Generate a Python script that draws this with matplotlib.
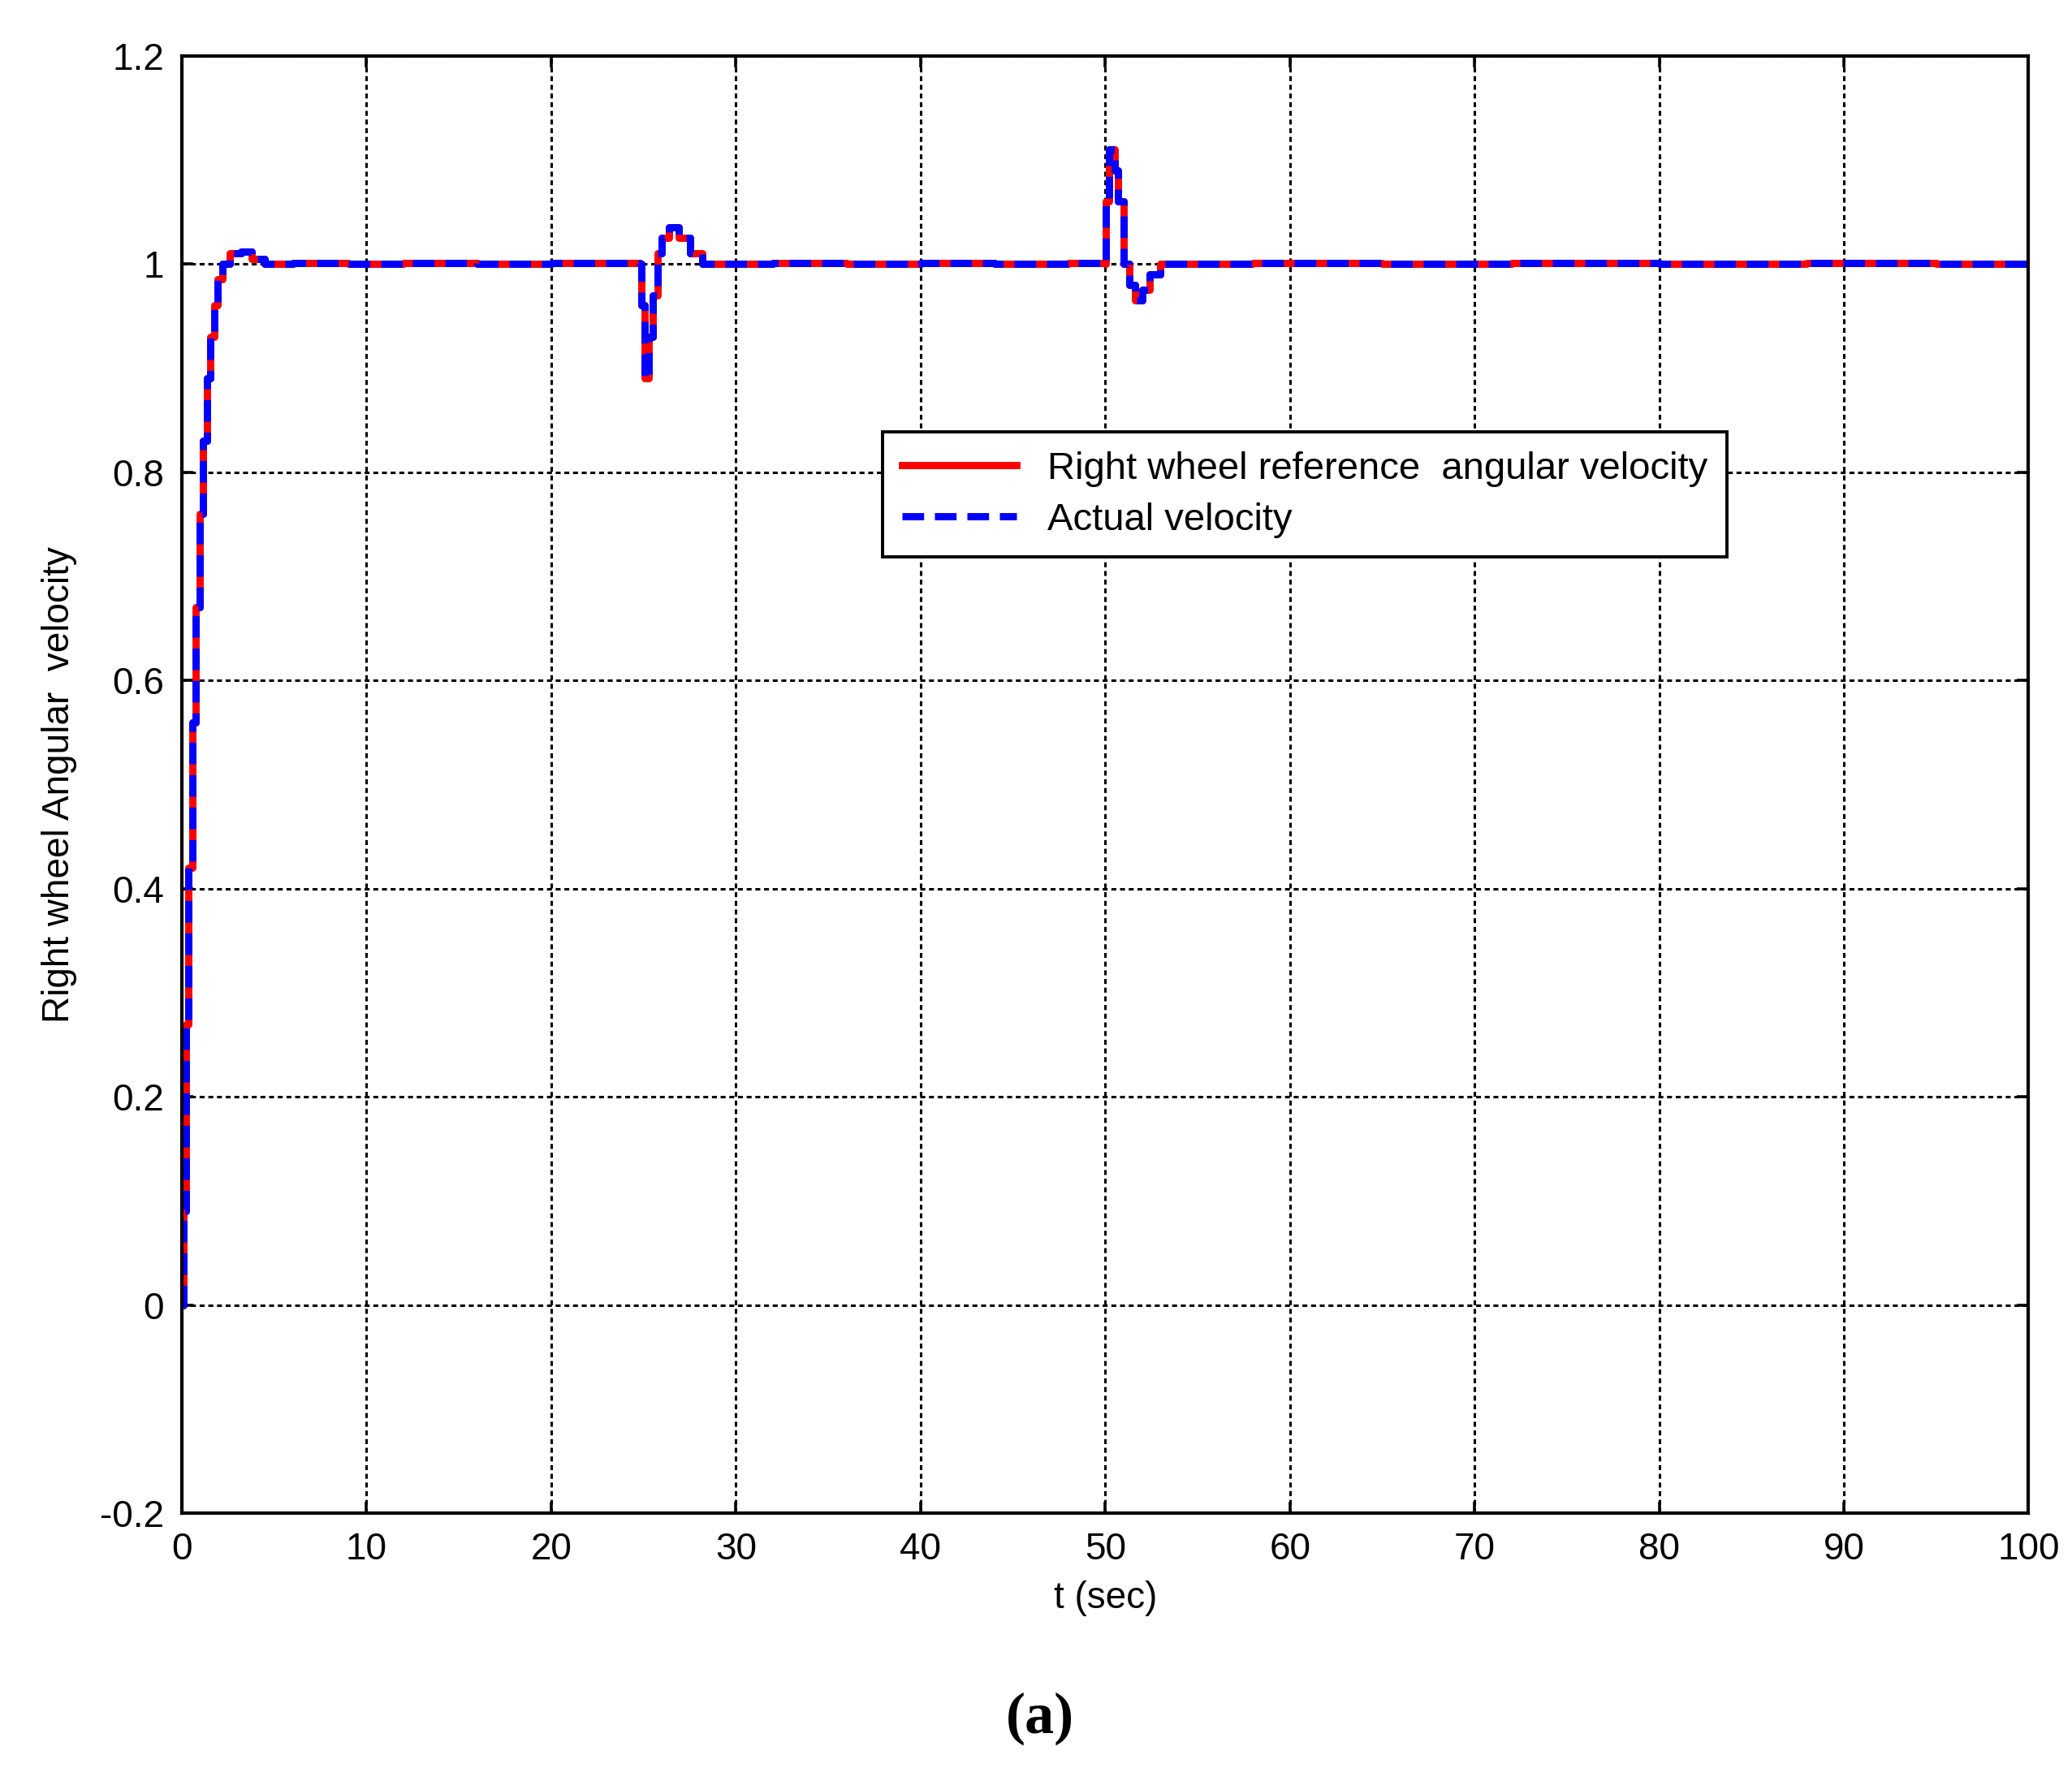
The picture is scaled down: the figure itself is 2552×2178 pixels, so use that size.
import numpy as np
import matplotlib.pyplot as plt

# step response
t = [0, 0.08, 0.2, 0.35, 0.55, 0.75, 0.95, 1.15, 1.35, 1.55, 1.75, 1.95, 2.2, 2.6, 3.2, 3.8, 4.5,
     6, 9, 12, 16, 20, 24.8, 24.9, 25.05, 25.3, 25.5, 25.75, 26.0, 26.4, 26.9, 27.5, 28.2,
     32, 36, 40, 44, 48, 50.0, 50.05, 50.2, 50.5, 50.7, 51.0, 51.3, 51.6, 52.0, 52.4, 53.0,
     58, 65, 72, 80, 88, 95, 100]
w_ref = [0, 0.09, 0.27, 0.42, 0.56, 0.67, 0.76, 0.83, 0.89, 0.93, 0.96, 0.985, 1.0, 1.01, 1.012, 1.005, 1.0,
         1.001, 1.0, 1.001, 1.0, 1.001, 1.0, 0.96, 0.89, 0.93, 0.97, 1.01, 1.025, 1.035, 1.025, 1.01, 1.0,
         1.001, 1.0, 1.001, 1.0, 1.001, 1.0, 1.06, 1.11, 1.09, 1.06, 1.0, 0.98, 0.965, 0.975, 0.99, 1.0,
         1.001, 1.0, 1.001, 1.0, 1.001, 1.0, 1.0]
w_act = w_ref

plt.rcParams['font.family'] = ['Liberation Sans', 'DejaVu Sans']
fig = plt.figure(figsize=(12.76, 10.89), dpi=200)
ax = fig.add_axes([0.0878, 0.144, 0.8912, 0.8245])

ax.plot(t, w_ref, color='red', lw=3.2, drawstyle='steps-post',
        label='Right wheel reference  angular velocity')
ax.plot(t, w_act, color='blue', lw=3.2, ls=(0, (3, 1.5)), drawstyle='steps-post',
        label='Actual velocity')

ax.set_xlim(0, 100)
ax.set_ylim(-0.2, 1.2)
ax.set_xticks(np.arange(0, 101, 10))
ax.set_yticks(np.arange(-0.2, 1.21, 0.2))
ax.set_yticklabels(['-0.2', '0', '0.2', '0.4', '0.6', '0.8', '1', '1.2'])
ax.grid(True, color='black', ls=(0, (2, 1.5)), lw=1.1)
ax.tick_params(labelsize=16.5, direction='in', length=5, width=1.3, top=True, right=True, pad=8)
for s in ax.spines.values():
    s.set_linewidth(1.5)
ax.set_xlabel('t (sec)', fontsize=16.5, labelpad=6)
ax.set_ylabel('Right wheel Angular  velocity', fontsize=16.5, labelpad=10)

leg = ax.legend(loc='upper left', bbox_to_anchor=(0.369, 0.755), fontsize=17,
                fancybox=False, framealpha=1, edgecolor='black', handlelength=3,
                borderpad=0.5, labelspacing=0.4)
leg.get_frame().set_linewidth(1.4)

fig.text(0.502, 0.02, '(a)', ha='center', fontsize=26, fontweight='bold',
         family=['Liberation Serif', 'DejaVu Serif'])

fig.savefig('out.png')
